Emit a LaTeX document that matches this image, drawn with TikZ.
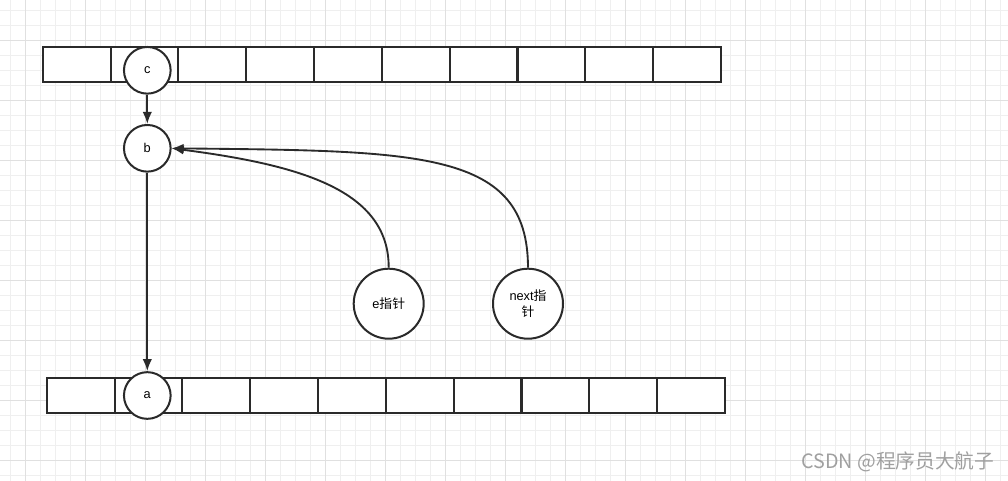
\documentclass[tikz,border=0pt]{standalone}
\usepackage{fontspec}
\setmainfont{Liberation Sans}
\newfontfamily\cjk{Noto Sans CJK SC}
\usetikzlibrary{arrows.meta}
\definecolor{lc}{HTML}{2A2A2A}
\definecolor{gminor}{HTML}{EFEFEF}
\definecolor{gmajor}{HTML}{E0E0E0}
\definecolor{wm}{HTML}{A0A0A0}
\begin{document}
\begin{tikzpicture}[x=0.75pt,y=-0.75pt,
  cell/.style={draw=lc, line width=1.5pt, minimum width=50.87pt, minimum height=26.25pt, inner sep=0pt, fill=white},
  small/.style={circle, draw=lc, line width=1.5pt, fill=white, minimum size=35pt, inner sep=0pt, font=\fontsize{9.6}{11}\selectfont},
  big/.style={circle, draw=lc, line width=1.5pt, fill=white, minimum size=52.5pt, inner sep=0pt, align=center, font=\fontsize{9.6}{11.5}\selectfont},
  link/.style={draw=lc, line width=1.4pt, -{Latex[length=9pt,width=7pt]}},
  gridminor/.style={gminor, line width=0.6pt},
  gridmajor/.style={gmajor, line width=0.7pt}]
\useasboundingbox (0,0) rectangle (1008,481);
\fill[white] (0,0) rectangle (1008,481);
\foreach \i in {0,...,66} {\draw[gridminor] ({10.7+15*\i},0) -- ({10.7+15*\i},481);}
\foreach \i in {0,...,31} {\draw[gridminor] (0,{10+15*\i}) -- (1008,{10+15*\i});}
\foreach \i in {0,...,16} {\draw[gridmajor] ({25.7+60*\i},0) -- ({25.7+60*\i},481);}
\foreach \i in {0,...,7} {\draw[gridmajor] (0,{40+60*\i}) -- (1008,{40+60*\i});}
% arrays
\foreach \i in {0,...,9} {
  \node[cell] (t\i) at ({76.6+67.83*\i},64.2) {};
  \node[cell] (u\i) at ({80.6+67.83*\i},395.2) {};
}
% circles
\node[small] (c) at (147.3,70.3) {c};
\node[small] (b) at (147.3,148.3) {b};
\node[small] (a) at (147.3,395.5) {a};
\node[big] (e) at (388.7,303.7) {e{\cjk 指针}};
\node[big] (n) at (528,303.7) {next{\cjk 指}\\{\cjk 针}};
% connectors
\draw[link] (c) -- (b);
\draw[link] (b) -- (a);
\draw[link] (e.north) .. controls (389,190) and (300,165) .. (b.east);
\draw[link] (n.north) .. controls (528,150) and (420,151) .. (b.east);
% watermark
\node[anchor=west, text=wm, inner sep=0pt, font=\cjk\fontsize{14.8}{16}\selectfont] (w) at (801,462) {CSDN @程序员大航子};
\end{tikzpicture}
\end{document}
